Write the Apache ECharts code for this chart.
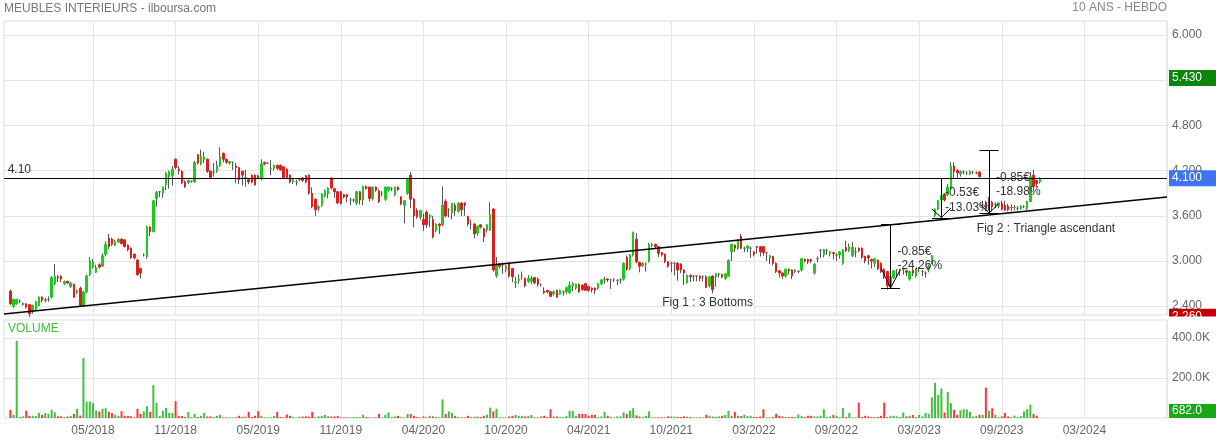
<!DOCTYPE html>
<html><head><meta charset="utf-8">
<script src="https://cdn.jsdelivr.net/npm/echarts@6/dist/echarts.min.js"></script>
<style>html,body{margin:0;padding:0;background:#fff}#c{width:1216px;height:440px}</style>
</head><body><div id="c"></div>
<script>
// ---------- text ----------
const titleText = 'MEUBLES INTERIEURS - ilboursa.com';
const periodText = '10 ANS - HEBDO';
const volumeTitle = 'VOLUME';
const tickLabels = ['05/2018','11/2018','05/2019','11/2019','04/2020','10/2020','04/2021','10/2021','03/2022','09/2022','03/2023','09/2023','03/2024'];
const tickFirstWeek = 28, tickEveryWeeks = 26;
const weekCount = 367;       // weekly slots on the axis (data + empty future)
const firstDataWeek = 2;

// ---------- weekly OHLC ----------
const opens = [
2.60,2.40,2.43,2.47,2.42,2.43,2.42,2.34,2.36,2.41,
2.52,2.48,2.49,2.52,2.70,2.79,2.80,2.70,2.73,2.66,
2.69,2.58,2.64,2.41,2.59,2.82,2.92,2.85,2.95,2.93,
3.09,3.30,3.29,3.21,3.25,3.29,3.28,3.21,3.17,3.09,
3.01,2.90,3.08,3.06,3.45,3.39,3.83,3.92,3.90,4.01,
4.12,4.13,4.35,4.22,4.19,4.05,4.04,4.06,4.05,4.41,
4.29,4.34,4.35,4.19,4.18,4.19,4.27,4.43,4.35,4.30,
4.31,4.26,4.24,4.19,4.11,4.08,4.14,4.14,4.13,4.10,
4.31,4.30,4.23,4.23,4.27,4.27,4.25,4.22,4.14,4.05,
4.05,4.08,4.10,4.13,4.14,3.90,3.82,3.70,3.74,3.86,
3.89,4.10,3.96,3.92,3.92,3.88,3.88,3.81,3.81,3.77,
3.92,3.81,3.99,3.98,3.83,3.98,3.93,3.90,3.82,3.94,
3.96,3.88,3.98,3.85,3.74,3.90,4.14,3.82,3.67,3.58,
3.55,3.65,3.58,3.55,3.40,3.49,3.48,3.79,3.68,3.64,
3.74,3.66,3.77,3.77,3.59,3.49,3.49,3.37,3.48,3.43,
3.41,3.41,3.69,2.80,2.96,2.95,2.89,2.97,2.90,2.71,
2.74,2.80,2.77,2.73,2.73,2.78,2.76,2.68,2.60,2.61,
2.59,2.56,2.61,2.56,2.59,2.59,2.58,2.67,2.64,2.69,
2.68,2.70,2.66,2.64,2.64,2.64,2.70,2.75,2.76,2.75,
2.75,2.74,2.75,2.76,3.05,2.90,3.08,3.29,2.98,2.94,
2.96,3.00,3.20,3.22,3.19,3.11,3.09,2.99,2.97,2.97,
2.97,2.96,2.88,2.71,2.81,2.80,2.80,2.80,2.79,2.79,
2.67,2.80,2.79,2.82,2.82,2.77,2.80,3.12,3.21,3.17,
3.33,3.17,3.17,3.17,3.12,3.19,3.19,3.19,3.11,3.04,
3.06,2.97,2.87,2.84,2.80,2.89,2.88,2.86,2.86,2.88,
3.02,3.02,3.02,2.84,3.03,3.14,3.08,3.14,3.10,3.11,
3.08,3.08,2.97,3.18,3.14,3.07,3.12,3.17,3.17,3.06,
3.07,3.02,2.97,3.01,2.97,2.89,2.86,2.66,2.78,2.88,
2.87,2.89,2.87,2.76,2.88,2.80,2.90,2.86,2.84,2.88,
2.98,3.60,3.69,3.81,3.89,3.88,3.96,4.26,4.20,4.16,
4.18,4.17,4.16,4.18,4.17,4.18,3.74,3.77,3.76,3.78,
3.75,3.73,3.76,3.74,3.73,3.71,3.71,3.70,3.69,3.72,
3.69,3.79,4.14,4.07,4.05];
const closes = [
2.43,2.49,2.49,2.47,2.44,2.39,2.30,2.41,2.46,2.52,
2.48,2.48,2.49,2.78,2.80,2.78,2.76,2.73,2.71,2.71,
2.52,2.61,2.41,2.59,2.80,3.00,2.99,2.91,2.92,3.07,
3.22,3.19,3.22,3.26,3.29,3.23,3.19,3.15,3.04,3.04,
2.82,2.84,3.08,3.45,3.39,3.80,3.91,3.92,3.98,4.16,
4.19,4.22,4.24,4.20,4.04,3.99,4.07,4.06,4.31,4.30,
4.39,4.38,4.19,4.11,4.18,4.27,4.39,4.35,4.31,4.32,
4.31,4.24,4.08,4.14,4.11,4.05,4.05,4.01,4.11,4.29,
4.29,4.30,4.23,4.27,4.23,4.21,4.11,4.11,4.05,4.08,
4.05,4.08,4.07,4.05,3.90,3.72,3.68,3.72,3.89,3.93,
3.97,3.97,3.92,3.77,3.76,3.85,3.85,3.81,3.81,3.92,
3.81,3.99,3.96,3.83,3.98,3.94,3.79,3.90,3.98,3.98,
3.96,3.98,3.95,3.76,3.80,4.08,3.82,3.60,3.59,3.67,
3.48,3.48,3.61,3.32,3.49,3.47,3.74,3.60,3.68,3.76,
3.67,3.77,3.68,3.74,3.49,3.49,3.36,3.46,3.45,3.32,
3.48,3.62,2.88,2.95,2.93,2.95,2.93,2.80,2.79,2.72,
2.76,2.80,2.67,2.77,2.77,2.71,2.69,2.68,2.58,2.59,
2.53,2.59,2.52,2.61,2.59,2.65,2.68,2.70,2.69,2.59,
2.62,2.61,2.61,2.62,2.61,2.70,2.75,2.75,2.75,2.75,
2.75,2.74,2.75,2.97,2.89,3.08,3.38,2.99,2.93,2.97,
2.96,3.22,3.22,3.19,3.10,3.08,2.99,2.93,2.97,2.97,
2.88,2.88,2.84,2.81,2.79,2.80,2.80,2.77,2.79,2.65,
2.79,2.62,2.83,2.82,2.79,2.83,3.01,3.22,3.17,3.28,
3.17,3.17,3.20,3.17,3.09,3.18,3.12,3.11,3.11,3.07,
2.97,2.86,2.84,2.80,2.89,2.87,2.80,2.88,2.86,3.03,
3.00,2.99,3.00,2.96,3.03,3.14,3.15,3.14,3.12,3.10,
3.08,3.12,3.15,3.14,3.19,3.18,3.12,3.14,3.05,3.00,
3.04,3.00,3.03,2.90,2.86,2.79,2.67,2.79,2.87,2.88,
2.89,2.89,2.85,2.86,2.84,2.89,2.90,2.86,2.84,2.93,
3.07,3.69,3.80,3.87,3.81,3.98,4.26,4.19,4.17,4.19,
4.18,4.17,4.19,4.18,4.17,4.12,3.74,3.70,3.76,3.72,
3.75,3.77,3.69,3.68,3.68,3.71,3.71,3.70,3.73,3.72,
3.79,4.12,3.99,4.03,4.10];
const lows = [
2.42,2.38,2.42,2.44,2.41,2.37,2.26,2.30,2.34,2.40,
2.45,2.45,2.46,2.50,2.68,2.72,2.72,2.68,2.69,2.64,
2.51,2.56,2.40,2.40,2.57,2.80,2.90,2.84,2.90,2.92,
3.06,3.16,3.20,3.20,3.24,3.22,3.18,3.13,3.03,3.02,
2.80,2.77,3.06,3.03,3.33,3.38,3.72,3.85,3.84,3.94,
3.96,4.00,4.22,4.15,4.02,3.97,4.02,4.04,4.04,4.28,
4.27,4.30,4.17,4.09,4.12,4.17,4.25,4.31,4.29,4.28,
4.21,4.03,4.02,4.00,3.99,4.02,4.03,4.00,4.09,4.07,
4.27,4.29,4.14,4.20,4.21,4.20,4.09,4.10,4.03,4.02,
4.00,4.06,4.05,4.03,3.88,3.70,3.60,3.66,3.72,3.84,
3.83,3.95,3.84,3.76,3.75,3.83,3.78,3.74,3.78,3.74,
3.75,3.74,3.95,3.79,3.80,3.92,3.77,3.86,3.80,3.92,
3.93,3.86,3.93,3.74,3.50,3.88,3.70,3.45,3.56,3.55,
3.40,3.44,3.45,3.30,3.38,3.36,3.46,3.58,3.58,3.55,
3.60,3.64,3.60,3.60,3.46,3.42,3.30,3.34,3.43,3.25,
3.38,3.40,2.86,2.78,2.90,2.83,2.85,2.78,2.72,2.64,
2.70,2.75,2.65,2.71,2.69,2.69,2.66,2.66,2.56,2.57,
2.52,2.54,2.51,2.55,2.54,2.56,2.56,2.60,2.62,2.58,
2.60,2.60,2.59,2.58,2.56,2.62,2.68,2.70,2.72,2.63,
2.72,2.68,2.70,2.74,2.87,2.88,3.06,2.97,2.85,2.92,
2.86,2.98,3.18,3.17,3.05,3.06,2.97,2.91,2.85,2.81,
2.74,2.84,2.68,2.70,2.72,2.73,2.73,2.73,2.73,2.64,
2.65,2.57,2.66,2.78,2.77,2.75,2.79,3.00,3.12,3.15,
3.16,3.12,3.12,3.04,3.06,3.10,3.06,3.07,3.00,2.96,
2.94,2.84,2.78,2.76,2.78,2.82,2.76,2.84,2.84,2.86,
2.98,2.96,2.97,2.82,2.98,3.04,3.05,3.08,3.06,3.02,
3.00,3.03,2.95,3.12,3.12,3.05,3.05,3.12,3.03,2.97,
2.95,2.90,2.92,2.88,2.84,2.76,2.62,2.64,2.76,2.78,
2.80,2.82,2.80,2.74,2.80,2.78,2.85,2.80,2.78,2.85,
2.96,3.58,3.67,3.79,3.79,3.86,3.94,4.10,4.10,4.12,
4.15,4.14,4.14,4.15,4.15,4.11,3.70,3.66,3.68,3.66,
3.70,3.70,3.67,3.66,3.66,3.66,3.67,3.67,3.68,3.70,
3.68,3.78,3.97,3.98,4.03];
const highs = [
2.62,2.50,2.50,2.49,2.45,2.44,2.43,2.42,2.47,2.53,
2.53,2.51,2.53,2.80,2.96,2.81,2.81,2.74,2.74,2.72,
2.70,2.62,2.66,2.60,2.82,3.05,3.03,2.95,2.97,3.10,
3.26,3.36,3.31,3.28,3.30,3.30,3.29,3.22,3.18,3.10,
3.03,2.91,3.10,3.47,3.46,3.81,3.93,3.93,3.99,4.18,
4.20,4.26,4.36,4.26,4.20,4.07,4.08,4.07,4.33,4.42,
4.48,4.45,4.36,4.20,4.30,4.33,4.51,4.44,4.36,4.33,
4.32,4.30,4.25,4.20,4.21,4.10,4.15,4.15,4.14,4.35,
4.32,4.31,4.34,4.28,4.28,4.28,4.26,4.23,4.15,4.09,
4.08,4.10,4.11,4.14,4.15,3.98,3.83,3.74,3.90,3.95,
3.98,4.11,3.97,3.93,3.93,3.89,3.89,3.84,3.83,3.93,
3.93,4.00,4.00,3.99,3.99,3.99,3.95,3.93,3.99,3.99,
3.98,3.99,3.99,3.86,3.81,4.09,4.18,3.84,3.70,3.68,
3.63,3.67,3.62,3.60,3.50,3.50,3.99,3.82,3.70,3.77,
3.77,3.78,3.78,3.78,3.60,3.55,3.50,3.47,3.49,3.44,
3.49,3.78,3.70,3.05,2.97,2.98,2.95,2.98,2.91,2.79,
2.82,2.86,2.78,2.81,2.80,2.79,2.78,2.70,2.65,2.62,
2.60,2.61,2.62,2.62,2.61,2.66,2.73,2.72,2.70,2.70,
2.69,2.71,2.67,2.65,2.65,2.71,2.76,2.79,2.77,2.76,
2.77,2.76,2.77,2.98,3.07,3.09,3.39,3.37,2.99,2.98,
2.98,3.24,3.24,3.23,3.20,3.12,3.10,3.00,2.99,2.98,
2.98,2.97,2.89,2.82,2.82,2.81,2.81,2.81,2.81,2.81,
2.80,2.81,2.84,2.84,2.83,2.84,3.02,3.23,3.22,3.29,
3.36,3.19,3.21,3.19,3.13,3.20,3.20,3.20,3.12,3.08,
3.07,2.98,2.88,2.85,2.90,2.90,2.89,2.89,2.88,3.04,
3.03,3.03,3.03,2.97,3.06,3.16,3.16,3.16,3.13,3.12,
3.10,3.13,3.16,3.27,3.23,3.25,3.18,3.18,3.18,3.07,
3.08,3.03,3.04,3.02,2.98,2.90,2.87,2.80,2.88,2.89,
2.90,2.90,2.88,2.87,2.89,2.90,2.92,2.88,2.86,2.95,
3.08,3.70,3.81,3.89,3.90,4.02,4.31,4.31,4.22,4.20,
4.20,4.19,4.20,4.19,4.19,4.19,3.80,3.80,3.85,3.80,
3.78,3.78,3.80,3.80,3.76,3.75,3.74,3.73,3.74,3.74,
3.80,4.18,4.21,4.08,4.11];
// weekly volume, thousands of shares
const volumesK = [
41,16,385,5,8,36,11,11,10,25,
16,25,21,41,28,8,8,5,7,11,
20,46,12,300,82,82,74,38,33,46,
49,31,25,15,11,34,11,11,8,3,
46,20,33,59,31,164,75,11,36,51,
25,25,85,11,10,5,30,5,21,5,
11,25,8,8,5,11,16,3,3,3,
3,3,11,5,8,31,5,11,34,11,
3,3,3,11,31,5,3,18,11,5,
3,7,7,8,7,31,3,8,11,15,
10,8,8,10,3,3,3,3,5,5,
3,16,5,3,3,3,21,3,16,28,
5,8,11,3,3,20,20,11,5,3,
8,3,11,8,5,3,93,20,33,25,
11,5,3,3,11,5,5,8,5,11,
16,52,33,46,3,3,3,8,11,15,
11,11,8,11,15,3,3,8,11,5,
44,8,8,5,5,11,36,36,11,21,
20,20,11,16,15,5,8,31,11,5,
3,8,8,28,20,36,49,13,7,5,
11,33,3,3,3,3,3,8,8,7,
5,5,8,7,5,3,3,3,3,16,
11,7,7,8,11,15,36,11,31,11,
10,16,10,11,5,5,7,44,3,3,
5,21,11,8,5,5,5,5,18,11,
5,11,11,8,8,11,44,5,8,16,
11,5,49,5,25,3,3,77,5,11,
8,5,5,5,11,77,5,11,11,8,
5,28,8,11,15,5,16,8,25,21,
103,175,115,148,28,131,74,41,16,38,
44,43,30,8,11,16,16,152,36,49,
16,5,8,25,8,5,12,5,10,33,
44,66,20,11,0.682];

// ---------- axes ----------
const priceTicks = [2.4, 3.0, 3.6, 4.2, 4.8, 5.4, 6.0];
const priceMin = 2.283, priceMax = 6.186;
const volumeTicks = [200000, 400000];
const volumeMax = 490000;

// ---------- drawn analysis (data units: week, price) ----------
const resistanceLevel = 4.10;
const resistanceLabel = ['4.10', 1, 4.215];
const trendlinePoints = [[0, 2.296], [366, 3.85]];
const measureWeeks   = [279, 295, 310];
const measureTops    = [3.491, 4.102, 4.464];
const measureBottoms = [2.641, 3.571, 3.637];
const measureTipValues = [2.641, 3.577, 3.637];
const measureArmValues = [[2.907, 2.880], [3.690, 3.703], [3.757, 3.757]];
const measureTexts = [['-0.85€', '-24.26%'], ['-0.53€', '-13.03%'], ['-0.85€', '-18.98%']];
const measureTextWeeks = [281, 296, 312];
const measureTextValues = [[3.119, 2.933], [3.903, 3.704], [4.102, 3.920]];
const figureTexts = [['Fig 1 : 3 Bottoms', 207, 2.446], ['Fig 2 : Triangle ascendant', 306, 3.425]];
const extraTags = [['5.430', 5.43]];

// ---------- build ----------
const FONT = '"Liberation Sans", Arial, Helvetica, sans-serif';
const UP = '#1ccc1c', DOWN = '#e01e1e', FLAT = '#6a6a6a', WICK = '#555555';
const VUP = '#3fc13f', VDOWN = '#ff3535';
const categories = Array.from({length: weekCount}, (_, i) => 'S' + i);
const isTickWeek = i => i >= tickFirstWeek && (i - tickFirstWeek) % tickEveryWeeks === 0;

const rows = opens.map((o, k) => ({g: firstDataWeek + k, o, c: closes[k], l: lows[k], h: highs[k], v: volumesK[k] * 1000}));
const wickData = rows.map(r => [r.g, r.l, r.l, r.l, r.h]);
const bodyData = rows.map(r => {
  const col = r.c > r.o ? UP : (r.c < r.o ? DOWN : FLAT);
  return {value: [r.g, r.o, r.c, Math.min(r.o, r.c), Math.max(r.o, r.c)],
          itemStyle: {color: col, color0: col, borderColor: col, borderColor0: col}};
});
const volData = rows.map(r => ({value: [r.g, r.v], itemStyle: {color: r.c >= r.o ? VUP : VDOWN}}));

const seg = (x1, y1, x2, y2, width) => [{coord: [x1, y1], lineStyle: {width: width || 1}}, {coord: [x2, y2]}];
const lines = [];
lines.push(seg(trendlinePoints[0][0], trendlinePoints[0][1], trendlinePoints[1][0], trendlinePoints[1][1], 1.4));
measureWeeks.forEach((w, i) => {
  lines.push(seg(w, measureTops[i], w, measureBottoms[i]));
  lines.push(seg(w - 3, measureTops[i], w + 3, measureTops[i]));
  lines.push(seg(w - 3, measureBottoms[i], w + 3, measureBottoms[i]));
  lines.push(seg(w - 3, measureArmValues[i][0], w, measureTipValues[i]));
  lines.push(seg(w, measureTipValues[i], w + 3, measureArmValues[i][1]));
});
const points = [];
points.push({name: resistanceLabel[0], coord: [resistanceLabel[1], resistanceLabel[2]]});
measureTextWeeks.forEach((w, i) => {
  points.push({name: measureTexts[i][0], coord: [w, measureTextValues[i][0]]});
  points.push({name: measureTexts[i][1], coord: [w, measureTextValues[i][1]]});
});
figureTexts.forEach(f => points.push({name: f[0], coord: [f[1], f[2]]}));

const gridLine = {show: true, lineStyle: {color: '#e4e4e4', width: 1}};
const xAxisBase = {
  type: 'category', data: categories, boundaryGap: false,
  axisLine: {show: false}, axisTick: {show: false},
  splitLine: Object.assign({interval: (i) => isTickWeek(i)}, gridLine)
};

const option = {
  animation: false,
  backgroundColor: '#ffffff',
  textStyle: {fontFamily: FONT},
  grid: [
    {left: 4, top: 21, width: 1163, height: 294, show: true, borderColor: '#dcdcdc', borderWidth: 1, backgroundColor: '#fff'},
    {left: 4, top: 320, width: 1163, height: 98, show: true, borderColor: '#dcdcdc', borderWidth: 1, backgroundColor: '#fff'}
  ],
  xAxis: [
    Object.assign({gridIndex: 0, axisLabel: {show: false}}, xAxisBase),
    Object.assign({gridIndex: 1, axisLabel: {
      show: true, interval: (i) => isTickWeek(i), margin: 7, color: '#666', fontSize: 12, fontFamily: FONT,
      formatter: (val, idx) => tickLabels[(idx - tickFirstWeek) / tickEveryWeeks] || ''
    }}, xAxisBase)
  ],
  yAxis: [
    {gridIndex: 0, type: 'value', position: 'right', min: priceMin, max: priceMax,
     axisLine: {show: false}, axisTick: {show: false, customValues: priceTicks},
     splitLine: gridLine,
     axisLabel: {customValues: priceTicks, formatter: v => v.toFixed(3), color: '#666', fontSize: 12, margin: 5, padding: [0, 0, 5, 0], fontFamily: FONT}},
    {gridIndex: 1, type: 'value', position: 'right', min: 0, max: volumeMax,
     axisLine: {show: false}, axisTick: {show: false, customValues: volumeTicks},
     splitLine: gridLine,
     axisLabel: {customValues: volumeTicks, formatter: v => (v / 1000).toFixed(1) + 'K', color: '#666', fontSize: 12, margin: 5, padding: [0, 0, 7, 0], fontFamily: FONT}}
  ],
  series: [
    {type: 'candlestick', name: 'wick', xAxisIndex: 0, yAxisIndex: 0, data: wickData,
     encode: {x: 0, y: [1, 2, 3, 4]}, barWidth: 1, silent: true,
     itemStyle: {color: WICK, color0: WICK, borderColor: WICK, borderColor0: WICK, borderWidth: 1}},
    {type: 'candlestick', name: 'body', xAxisIndex: 0, yAxisIndex: 0, data: bodyData,
     encode: {x: 0, y: [1, 2, 3, 4]}, barWidth: 2, silent: true,
     itemStyle: {borderWidth: 1},
     markLine: {silent: true, symbol: ['none', 'none'], animation: false,
       label: {show: false},
       lineStyle: {color: '#000', width: 1, type: 'solid'},
       emphasis: {disabled: true},
       data: [{yAxis: resistanceLevel}].concat(lines)},
     markPoint: {silent: true, symbol: 'rect', symbolSize: 1, animation: false,
       itemStyle: {color: 'rgba(0,0,0,0)'},
       label: {show: true, position: 'right', distance: 0, formatter: p => p.name, color: '#333', fontSize: 12, fontFamily: FONT},
       data: points}},
    {type: 'bar', name: 'volume', xAxisIndex: 1, yAxisIndex: 1, data: volData, barWidth: 2, silent: true}
  ]
};

const chart = echarts.init(document.getElementById('c'));
chart.setOption(option);

// right-side value tags, positioned with the axis scales
const tagFor = (text, y, color, h) => [
  {type: 'rect', z: 20, shape: {x: 1169, y: y - h / 2, width: 47, height: h}, style: {fill: color}},
  {type: 'text', z: 21, style: {x: 1172, y: y, text: text, fill: '#fff', fontSize: 12, fontFamily: FONT, verticalAlign: 'middle'}}
];
const lastClose = closes[closes.length - 1];
const minLow = Math.min.apply(null, lows);
const lastVol = volumesK[volumesK.length - 1] * 1000;
const py = v => chart.convertToPixel({yAxisIndex: 0}, v);
const vy = v => chart.convertToPixel({yAxisIndex: 1}, v);
const volBottom = vy(0);
let graphics = [];
graphics.push({type: 'text', z: 20, style: {x: 4, y: 9, text: titleText, fill: '#777', fontSize: 12, fontFamily: FONT, verticalAlign: 'middle'}});
graphics.push({type: 'text', z: 20, style: {x: 1167, y: 8, text: periodText, fill: '#888', fontSize: 12, fontFamily: FONT, align: 'right', verticalAlign: 'middle'}});
graphics.push({type: 'text', z: 20, style: {x: 8, y: 329, text: volumeTitle, fill: '#3cbf3c', fontSize: 12, fontFamily: FONT, verticalAlign: 'middle'}});
extraTags.forEach(t => { graphics = graphics.concat(tagFor(t[0], py(t[1]), '#0a840a', 16)); });
graphics = graphics.concat(tagFor(lastClose.toFixed(3), py(lastClose), '#3f74ee', 16));
graphics = graphics.concat(tagFor(minLow.toFixed(3), py(minLow), '#c40000', 16));
graphics.push({type: 'rect', z: 22, shape: {x: 1168, y: 316.5, width: 48, height: 9}, style: {fill: '#fff'}});
graphics = graphics.concat(tagFor((lastVol).toFixed(1), Math.min(vy(lastVol), volBottom - 7), '#16a816', 14));
chart.setOption({graphic: graphics});
</script>
</body></html>
